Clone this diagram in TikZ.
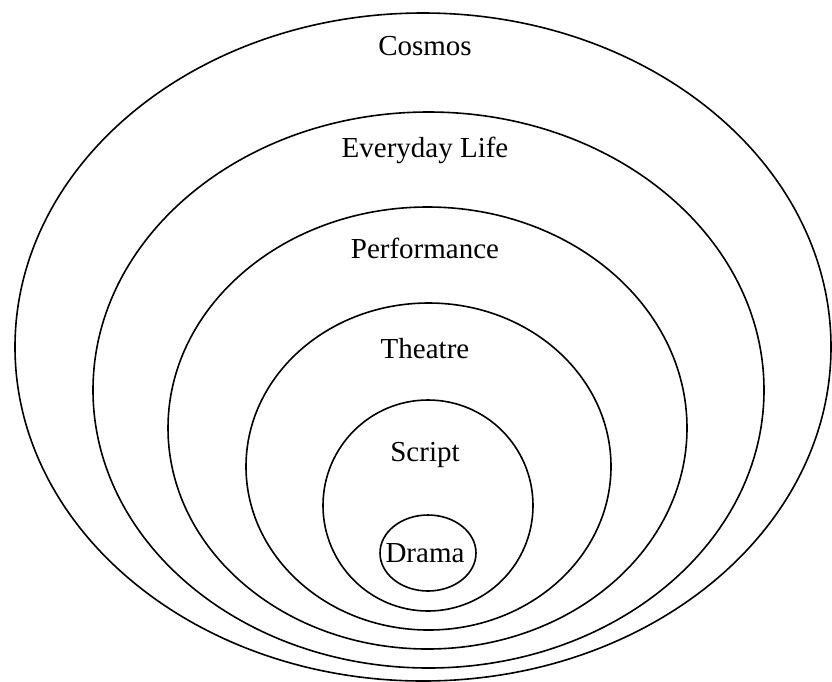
\documentclass[tikz,border=0pt]{standalone}
\usepackage{fontspec}
\setmainfont{Liberation Serif}
\usetikzlibrary{shapes.geometric}
\begin{document}
\begin{tikzpicture}[x=1pt,y=-1pt,
  ring/.style={draw=black, line width=1.6pt, ellipse, inner sep=0pt, minimum width=#1},
  lbl/.style={anchor=base, font=\fontsize{29}{34}\selectfont, inner sep=0pt}]
\useasboundingbox (0,0) rectangle (832,681);
\fill[white] (0,0) rectangle (832,681);
\node[ring=816pt, minimum height=668pt] (cosmos) at (423,347) {};
\node[ring=671pt, minimum height=556pt] (everyday) at (428.5,390) {};
\node[ring=519pt, minimum height=442pt] (performance) at (427.5,428) {};
\node[ring=365pt, minimum height=327pt] (theatre) at (428.5,466.5) {};
\node[ring=210pt, minimum height=211pt] (script) at (428,505.5) {};
\node[ring=96pt, minimum height=76pt] (drama) at (428,553) {};
\node[lbl] (tcosmos) at (425,55) {Cosmos};
\node[lbl] (teveryday) at (425,157) {Everyday Life};
\node[lbl] (tperformance) at (425,258) {Performance};
\node[lbl] (ttheatre) at (425,358) {Theatre};
\node[lbl] (tscript) at (425,461) {Script};
\node[lbl] (tdrama) at (425,562) {Drama};
\end{tikzpicture}
\end{document}
